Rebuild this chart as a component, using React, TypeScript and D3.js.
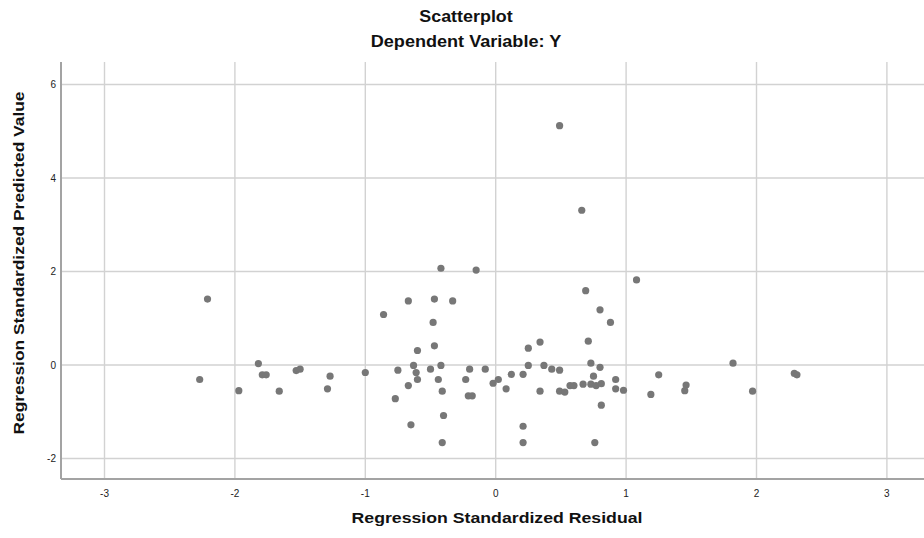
import React from "react";
import * as d3 from "d3";

const residuals: number[] = [
  -2.21, -2.27, -1.97, -1.82, -1.79, -1.76, -1.66, -1.53, -1.5, -1.29, -1.27,
  0.49, 0.66, -0.42, -0.15,
  -0.86, -0.67, -0.47, -0.33, -0.48, -0.47, -0.6, -1.0, -0.75, -0.63, -0.61, -0.6, -0.67, -0.77,
  -0.5, -0.42, -0.44, -0.41, -0.4, -0.65, -0.41, -0.23, -0.2, -0.21, -0.18, -0.08, -0.02, 0.02,
  0.08, 0.12, 0.21, 0.21, 0.21, 0.25, 0.25, 0.34, 0.37, 0.34, 0.43, 0.49, 0.49, 0.53, 0.57, 0.6,
  0.67, 0.69, 0.71, 0.73, 0.75, 0.73, 0.77, 0.81, 0.8, 0.8, 0.88, 0.81, 0.76, 0.92, 0.92, 0.98,
  1.08, 1.25, 1.19, 1.46, 1.45, 1.82, 1.97, 2.29, 2.31,
];
const predicted: number[] = [
  1.41, -0.31, -0.55, 0.03, -0.21, -0.21, -0.56, -0.12, -0.09, -0.51, -0.24,
  5.12, 3.31, 2.07, 2.03,
  1.08, 1.37, 1.41, 1.37, 0.91, 0.41, 0.31, -0.16, -0.11, -0.01, -0.16, -0.31, -0.44, -0.72,
  -0.09, -0.01, -0.31, -0.56, -1.08, -1.28, -1.66, -0.31, -0.09, -0.66, -0.66, -0.09, -0.39, -0.31,
  -0.51, -0.2, -0.2, -1.31, -1.66, 0.36, -0.01, 0.49, -0.01, -0.56, -0.09, -0.11, -0.56, -0.58, -0.44, -0.44,
  -0.41, 1.59, 0.51, 0.04, -0.24, -0.41, -0.44, -0.4, -0.05, 1.18, 0.91, -0.86, -1.66, -0.31, -0.51, -0.54,
  1.82, -0.21, -0.63, -0.43, -0.55, 0.04, -0.56, -0.18, -0.21,
];
const xTicks: number[] = [-3, -2, -1, 0, 1, 2, 3];
const yTicks: number[] = [-2, 0, 2, 4, 6];

const W = 924;
const H = 538;
const left = 61;
const right = 924;
const top = 62;
const bottom = 479;

export default function App() {
  const x = d3.scaleLinear().domain([-3, 3]).range([104.5, 886.9]);
  const y = d3.scaleLinear().domain([-2, 6]).range([458.5, 84.5]);
  const font = "'Liberation Sans', Arial, sans-serif";
  const pts = residuals.map((r, i) => ({ r, p: predicted[i] }));
  return (
    <svg
      width={W}
      height={H}
      style={{ position: "absolute", left: 0, top: 0, background: "#fff" }}
      fontFamily={font}
    >
      <rect x={0} y={0} width={W} height={H} fill="#fff" />
      {xTicks.map((t) => (
        <line key={"gx" + t} x1={x(t)} x2={x(t)} y1={top} y2={bottom} stroke="#d2d2d2" strokeWidth={1.4} />
      ))}
      {yTicks.map((t) => (
        <line key={"gy" + t} x1={left} x2={right} y1={y(t)} y2={y(t)} stroke="#d2d2d2" strokeWidth={1.4} />
      ))}
      <line x1={left} x2={left} y1={top} y2={bottom} stroke="#a3a3a3" strokeWidth={2} />
      <line x1={left} x2={right} y1={bottom} y2={bottom} stroke="#a3a3a3" strokeWidth={2} />
      {xTicks.map((t) => (
        <text key={"tx" + t} x={x(t)} y={497} fontSize={10} textAnchor="middle" fill="#222">
          {t}
        </text>
      ))}
      {yTicks.map((t) => (
        <text key={"ty" + t} x={56} y={y(t) + 3.5} fontSize={10} textAnchor="end" fill="#222">
          {t}
        </text>
      ))}
      {pts.map((d, i) => (
        <circle key={i} cx={x(d.r)} cy={y(d.p)} r={3.6} fill="#777777" />
      ))}
      <text transform="translate(466,21.5) scale(1.12,1)" fontSize={16} fontWeight="bold" textAnchor="middle" fill="#111">
        Scatterplot
      </text>
      <text transform="translate(466,46.5) scale(1.13,1)" fontSize={16} fontWeight="bold" textAnchor="middle" fill="#111">
        Dependent Variable: Y
      </text>
      <text transform="translate(497,523) scale(1.18,1)" fontSize={15} fontWeight="bold" textAnchor="middle" fill="#111">
        Regression Standardized Residual
      </text>
      <text
        transform="translate(24,263) rotate(-90) scale(1.16,1)"
        fontSize={15}
        fontWeight="bold"
        textAnchor="middle"
        fill="#111"
      >
        Regression Standardized Predicted Value
      </text>
    </svg>
  );
}
